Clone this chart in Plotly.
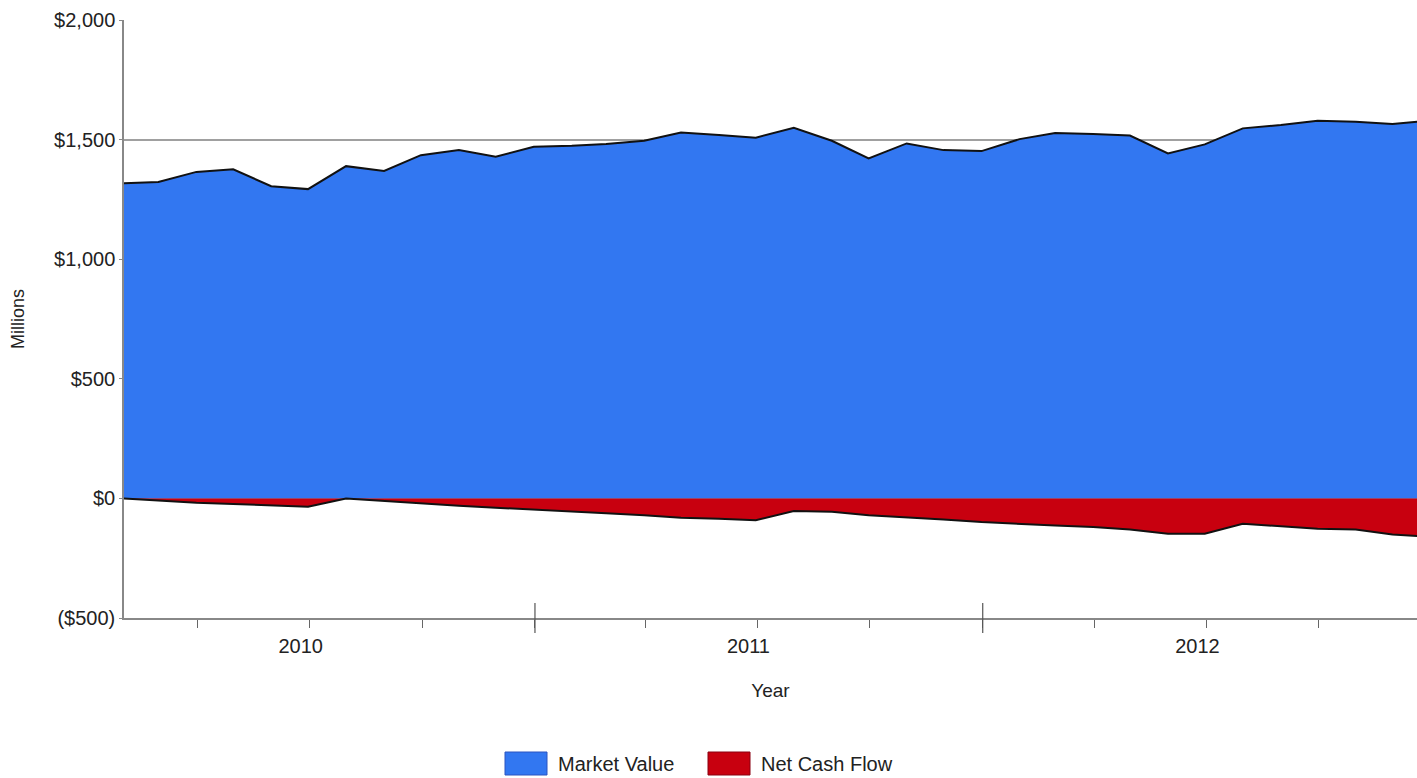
import calendar
import plotly.graph_objects as go

# ---- data (monthly, month-end, Jan 2010 - Dec 2012), $ millions ----
years = [2010, 2011, 2012]
month_end_dates = [
    f"{y}-{m:02d}-{calendar.monthrange(y, m)[1]:02d}" for y in years for m in range(1, 13)
]
market_value = [
    1317, 1323, 1365, 1376, 1305, 1293, 1389, 1369, 1435, 1456, 1428, 1470,
    1474, 1482, 1495, 1530, 1519, 1508, 1549, 1495, 1421, 1484, 1456, 1452,
    1502, 1528, 1523, 1517, 1442, 1480, 1547, 1561, 1579, 1575, 1565, 1580,
]
net_cash_flow = [
    0, -9, -18, -23, -29, -35, 0, -11, -21, -31, -39, -48,
    -55, -62, -70, -81, -85, -91, -53, -56, -70, -78, -88, -99,
    -105, -113, -120, -130, -148, -148, -106, -116, -127, -130, -151, -160,
]
series_names = ["Market Value", "Net Cash Flow"]
y_tick_vals = [-500, 0, 500, 1000, 1500, 2000]
y_tick_text = ["($500)", "$0", "$500", "$1,000", "$1,500", "$2,000"]
year_label_dates = ["2010-06-24", "2011-06-24", "2012-06-24"]
year_labels = ["2010", "2011", "2012"]
quarter_ticks = [f"{y}-{m:02d}-01" for y in years for m in (1, 4, 7, 10)][1:]
year_boundaries = ["2011-01-01", "2012-01-01"]

BLUE = "#3277F1"
RED = "#C8000F"
FONT = "Liberation Sans, Arial, sans-serif"
W, H = 1417, 778
ML, MR, MT, MB = 124, 0, 20, 160
PW, PH = W - ML - MR, H - MT - MB


def px_x(px):
    return (px - ML) / PW


def px_y(py):
    return (H - MB - py) / PH


fig = go.Figure()
fig.add_trace(go.Scatter(
    x=month_end_dates, y=market_value, name=series_names[0], mode="lines",
    fill="tozeroy", fillcolor=BLUE, line=dict(color="#111111", width=2),
    showlegend=False,
))
fig.add_trace(go.Scatter(
    x=month_end_dates, y=net_cash_flow, name=series_names[1], mode="lines",
    fill="tozeroy", fillcolor=RED, line=dict(color="#111111", width=2),
    showlegend=False,
))

# long ticks at year boundaries
for yb in year_boundaries:
    fig.add_shape(type="line", xref="x", yref="paper", x0=yb, x1=yb,
                  y0=px_y(633), y1=px_y(603), line=dict(color="#555555", width=1.2))

# legend (swatch + label) at the bottom
legend_items = [
    (series_names[0], BLUE, "#2a55c0", 505),
    (series_names[1], RED, "#8a0010", 708),
]
for name, fc, lc, x0 in legend_items:
    fig.add_shape(type="rect", xref="paper", yref="paper",
                  x0=px_x(x0), x1=px_x(x0 + 42), y0=px_y(775), y1=px_y(752),
                  fillcolor=fc, line=dict(color=lc, width=1))
    fig.add_annotation(xref="paper", yref="paper", x=px_x(x0 + 51), y=px_y(764),
                       xanchor="left", yanchor="middle", text=name, showarrow=False,
                       font=dict(size=20, color="#222222"))

fig.update_layout(
    width=W, height=H,
    margin=dict(l=ML, r=MR, t=MT, b=MB),
    paper_bgcolor="white", plot_bgcolor="white",
    font=dict(family=FONT, size=20, color="#222222"),
    showlegend=False,
    xaxis=dict(
        type="date", range=["2010-01-31", "2012-12-20"],
        tickmode="array", tickvals=year_label_dates, ticktext=year_labels,
        ticks="outside", ticklen=9, tickcolor="rgba(0,0,0,0)",
        minor=dict(tickmode="array", tickvals=quarter_ticks, ticks="outside",
                   ticklen=8, tickcolor="#666666", tickwidth=1, showgrid=False),
        showgrid=False, zeroline=False,
        showline=True, linecolor="#888888", linewidth=1.5,
        tickfont=dict(size=20),
        title=dict(text="Year", font=dict(size=19), standoff=28),
    ),
    yaxis=dict(
        range=[-500, 2000], tickmode="array", tickvals=y_tick_vals, ticktext=y_tick_text,
        ticks="outside", ticklen=3, tickcolor="#888888",
        showgrid=True, gridcolor="#A0A0A0", gridwidth=1.5, zeroline=False,
        showline=True, linecolor="#888888", linewidth=1.5,
        tickfont=dict(size=20),
        title=dict(text="Millions", font=dict(size=18), standoff=25),
    ),
)

fig.write_html(
    "out.html",
    config={"displayModeBar": False},
    post_script="document.body.style.margin='0';document.body.style.overflow='hidden';",
)
